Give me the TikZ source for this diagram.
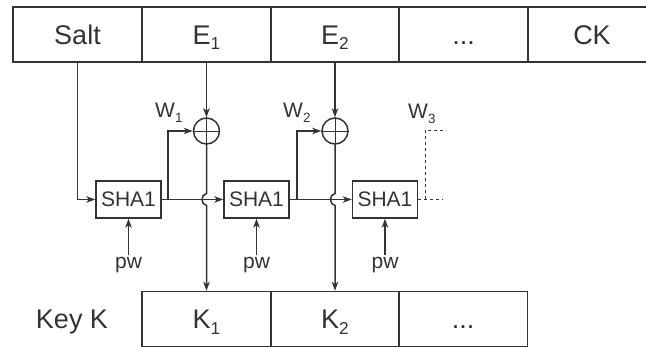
\documentclass[tikz,border=0pt]{standalone}
\usepackage{fontspec}
\usepackage{graphicx}
\setmainfont{Liberation Sans}
\usetikzlibrary{arrows.meta,calc}
\newcommand{\lsub}[1]{\raisebox{-0.2em}{\scalebox{0.64}{#1}}}
\definecolor{ink}{HTML}{333333}
\tikzset{
  cell/.style={draw=ink, line width=1.5pt, minimum width=128.6pt, minimum height=55pt,
    inner sep=0pt, font=\fontsize{27}{27}\selectfont, text=ink, text height=19.5pt, text depth=0pt},
  lbl/.style={inner sep=0pt, font=\fontsize{27}{27}\selectfont, text=ink, text height=19.5pt, text depth=0pt},
  shabox/.style={draw=ink, line width=1.5pt, minimum width=65pt, minimum height=37pt,
    inner sep=0pt, font=\fontsize{21}{21}\selectfont, text=ink, text height=15pt, text depth=0pt},
  xorc/.style={draw=ink, line width=1.5pt, circle, minimum size=26pt, inner sep=0pt},
  wlbl/.style={inner sep=0pt, anchor=base west, font=\fontsize{21}{21}\selectfont, text=ink},
  pwlbl/.style={inner sep=2.5pt, anchor=north, font=\fontsize{21}{21}\selectfont, text=ink},
  conn/.style={draw=ink, line width=1.5pt},
  arr/.style={conn, -{Stealth[length=9pt,width=6.5pt,inset=2.5pt]}},
  dsh/.style={draw=ink, line width=1.5pt, dash pattern=on 3pt off 3pt},
}
\begin{document}
\begin{tikzpicture}[x=1pt,y=-1pt]
\useasboundingbox (0,0) rectangle (646,347);
\clip (0,0) rectangle (646,347);
% top row
\node[cell] (salt) at (77.5,34.5) {Salt};
\node[cell] (e1) at (206.5,34.5) {E\lsub{1}};
\node[cell] (e2) at (335,34.5) {E\lsub{2}};
\node[cell] (dots) at (463.5,34.5) {...};
\node[cell] (ck) at (592,34.5) {CK};
% xor circles
\node[xorc] (c1) at (206.5,131) {};
\node[xorc] (c2) at (335,131) {};
\draw[ink, line width=0.9pt] (c1.north) -- (c1.south) (c1.west) -- (c1.east);
\draw[ink, line width=0.9pt] (c2.north) -- (c2.south) (c2.west) -- (c2.east);
% SHA1 boxes
\node[shabox] (s1) at (128.5,199.5) {SHA1};
\node[shabox] (s2) at (256.5,199.5) {SHA1};
\node[shabox] (s3) at (385,199.5) {SHA1};
% W labels
\node[wlbl] (w1) at (155,118) {W\lsub{1}};
\node[wlbl] (w2) at (283,118) {W\lsub{2}};
\node[wlbl] (w3) at (408,119) {W\lsub{3}};
% pw labels
\node[pwlbl] (p1) at (128.5,255) {pw};
\node[pwlbl] (p2) at (256.5,255) {pw};
\node[pwlbl] (p3) at (385,255) {pw};
% key row
\node[lbl] (keyk) at (72,319) {Key K};
\node[cell] (k1) at (206.5,319) {K\lsub{1}};
\node[cell] (k2) at (335,319) {K\lsub{2}};
\node[cell] (k3) at (463,319) {...};
% connectors
\draw[arr] (salt.south) |- (s1.west);
\draw[arr] (e1.south) -- (c1.north);
\draw[arr] (e2.south) -- (c2.north);
\draw[arr] (s1.east) -- ++(6,0) |- (c1.west);
\draw[arr] (s2.east) -- ++(7,0) |- (c2.west);
\draw[arr] (s1.east) -- (s2.west);
\draw[arr] (s2.east) -- (s3.west);
\draw[arr] (c1.south) -- ([yshift=6pt]c1 |- s1.east) .. controls +(-6,1) and +(-6,-1) .. ([yshift=-6pt]c1 |- s1.east) -- (k1.north);
\draw[arr] (c2.south) -- ([yshift=6pt]c2 |- s2.east) .. controls +(-6,1) and +(-6,-1) .. ([yshift=-6pt]c2 |- s2.east) -- (k2.north);
\draw[arr] (p1.north) -- (s1.south);
\draw[arr] (p2.north) -- (s2.south);
\draw[arr] (p3.north) -- (s3.south);
\draw[dsh] (s3.east) -- ++(25,0);
\draw[dsh] ([xshift=7pt]s3.east) |- ++(21,-69);
\end{tikzpicture}
\end{document}
